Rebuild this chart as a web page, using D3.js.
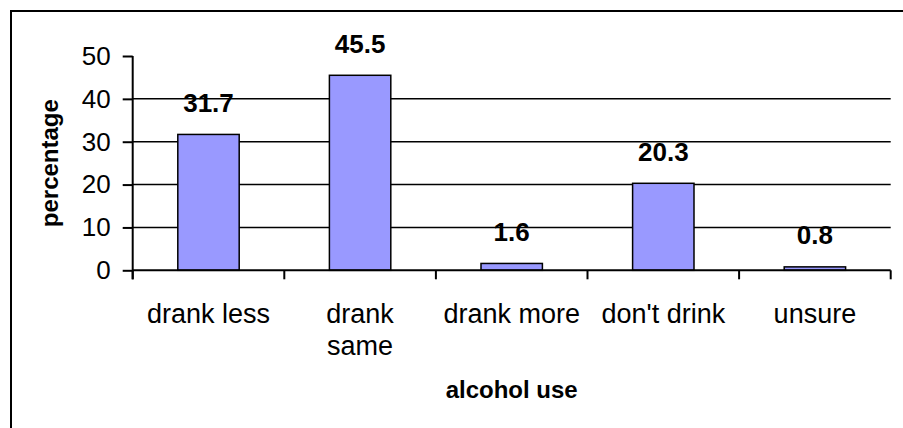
<!DOCTYPE html>
<html>
<head>
<meta charset="utf-8">
<script src="https://cdn.jsdelivr.net/npm/d3@7"></script>
<style>
  body { margin: 0; background: #fff; }
  svg { display: block; font-family: "Liberation Sans", Arial, sans-serif; }
</style>
</head>
<body>
<svg id="chart" width="903" height="428"></svg>
<script>
// data
var categories = ["drank less", "drank\nsame", "drank more", "don't drink", "unsure"];
var values = [31.7, 45.5, 1.6, 20.3, 0.8];
var yTicks = [0, 10, 20, 30, 40, 50];
var yTitle = "percentage";
var xTitle = "alcohol use";

var svg = d3.select("#chart");

// outer frame (right and bottom run off the picture)
svg.append("rect")
    .attr("x", 11).attr("y", 11)
    .attr("width", 950).attr("height", 450)
    .attr("fill", "none")
    .attr("stroke", "#000")
    .attr("stroke-width", 2);

var plotLeft = 132.7, plotRight = 890.7, plotTop = 56, plotBottom = 270.3;

var x = d3.scaleBand()
    .domain(categories)
    .range([plotLeft, plotRight])
    .padding(0);

var y = d3.scaleLinear()
    .domain([0, 50])
    .range([plotBottom, plotTop]);

var barW = x.bandwidth() * 0.405;

// gridlines
svg.append("g")
    .selectAll("line")
    .data(yTicks.filter(function(d) { return d > 0 && d < 50; }))
    .enter().append("line")
    .attr("x1", plotLeft).attr("x2", plotRight)
    .attr("y1", function(d) { return y(d); })
    .attr("y2", function(d) { return y(d); })
    .attr("stroke", "#000")
    .attr("stroke-width", 1.5);

// bars
svg.append("g")
    .selectAll("rect")
    .data(values)
    .enter().append("rect")
    .attr("x", function(d, i) { return x(categories[i]) + x.bandwidth() / 2 - barW / 2; })
    .attr("y", function(d) { return y(d); })
    .attr("width", barW)
    .attr("height", function(d) { return y(0) - y(d); })
    .attr("fill", "#9999ff")
    .attr("stroke", "#000")
    .attr("stroke-width", 1.5);

// value labels
svg.append("g")
    .selectAll("text")
    .data(values)
    .enter().append("text")
    .attr("x", function(d, i) { return x(categories[i]) + x.bandwidth() / 2; })
    .attr("y", function(d) { return y(d) - 22.5; })
    .attr("text-anchor", "middle")
    .attr("font-weight", "bold")
    .attr("font-size", "26px")
    .attr("fill", "#000")
    .text(function(d) { return d.toFixed(1); });

// y axis
var yAxis = svg.append("g")
    .attr("transform", "translate(" + plotLeft + ",0)")
    .call(d3.axisLeft(y).tickValues(yTicks).tickSize(10).tickPadding(12).tickSizeOuter(0));
yAxis.select(".domain").attr("d", "M0," + plotTop + "V" + (plotBottom + 9));
yAxis.selectAll("line, path").attr("stroke", "#000").attr("stroke-width", 2);
yAxis.selectAll("text")
    .attr("font-family", "Liberation Sans, Arial, sans-serif")
    .attr("font-size", "26px")
    .attr("fill", "#000");

// x axis: ticks at category boundaries
var bounds = categories.map(function(c) { return x(c); }).concat([plotRight]);
svg.append("line")
    .attr("x1", plotLeft).attr("x2", plotRight)
    .attr("y1", plotBottom).attr("y2", plotBottom)
    .attr("stroke", "#000").attr("stroke-width", 2);
svg.append("g")
    .selectAll("line")
    .data(bounds)
    .enter().append("line")
    .attr("x1", function(d) { return d; }).attr("x2", function(d) { return d; })
    .attr("y1", plotBottom).attr("y2", plotBottom + 9)
    .attr("stroke", "#000").attr("stroke-width", 2);

// category labels
var catG = svg.append("g")
    .selectAll("text")
    .data(categories)
    .enter().append("text")
    .attr("x", function(d) { return x(d) + x.bandwidth() / 2; })
    .attr("y", 322.7)
    .attr("text-anchor", "middle")
    .attr("font-size", "27px")
    .attr("fill", "#000");
catG.each(function(d) {
    var t = d3.select(this);
    d.split("\n").forEach(function(line, i) {
        t.append("tspan")
            .attr("x", x(d) + x.bandwidth() / 2)
            .attr("dy", i === 0 ? 0 : 32.5)
            .text(line);
    });
});

// axis titles
svg.append("text")
    .attr("transform", "translate(58," + ((plotTop + plotBottom) / 2) + ") rotate(-90)")
    .attr("text-anchor", "middle")
    .attr("font-weight", "bold")
    .attr("font-size", "24px")
    .attr("fill", "#000")
    .text(yTitle);

svg.append("text")
    .attr("x", (plotLeft + plotRight) / 2)
    .attr("y", 398)
    .attr("text-anchor", "middle")
    .attr("font-weight", "bold")
    .attr("font-size", "24px")
    .attr("fill", "#000")
    .text(xTitle);
</script>
</body>
</html>
